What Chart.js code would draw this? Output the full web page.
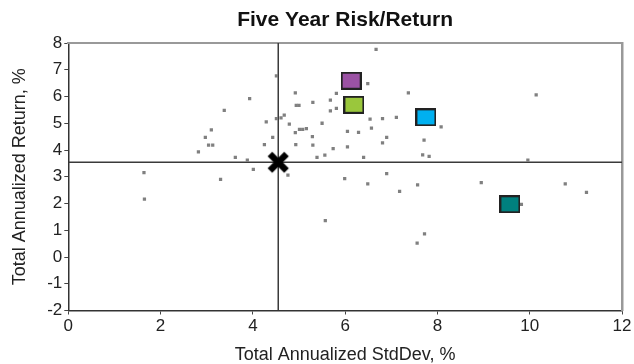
<!DOCTYPE html>
<html><head><meta charset="utf-8">
<script src="https://cdn.jsdelivr.net/npm/chart.js@4/dist/chart.umd.min.js"></script>
<style>html,body{margin:0;padding:0;background:#fff;}canvas{display:block;}</style>
</head><body>
<canvas id="c" width="634" height="364"></canvas>
<script>
// ---- data ----
const peerStdDev = [4.51,3.93,3.38,4.29,4.51,4.61,4.68,4.79,3.10,2.97,3.04,3.13,4.43,4.25,2.82,3.62,3.88,4.01,3.30,1.64,1.65,4.76,
  6.67,6.49,4.92,5.81,7.37,4.94,5.00,5.30,5.68,5.81,5.68,6.54,6.81,7.11,8.08,4.92,5.01,5.08,5.16,5.50,5.29,6.05,6.29,6.57,6.90,6.81,7.71,
  4.93,5.30,5.74,6.05,5.39,5.56,6.40,7.68,7.82,5.99,6.49,6.90,7.18,7.57,5.57,7.72,7.56,10.14,9.96,8.95,10.77,11.23,9.82];
const peerReturn = [6.77,5.92,5.48,5.05,5.17,5.20,5.30,4.97,4.75,4.47,4.18,4.18,4.47,4.20,3.93,3.72,3.62,3.28,2.90,3.15,2.16,3.06,
  7.76,6.48,6.14,6.12,6.14,5.67,5.67,5.78,5.86,5.56,5.46,5.15,5.17,5.22,4.86,4.65,4.77,4.77,4.80,5.00,4.50,4.70,4.66,4.82,4.47,4.27,4.37,
  4.20,4.18,4.05,4.12,3.72,3.81,3.72,3.82,3.76,2.93,2.73,3.12,2.45,2.70,1.36,0.86,0.52,6.06,3.62,2.78,2.73,2.42,1.97];
const fundNames = ['Fund 1','Fund 2','Fund 3','Fund 4'];
const fundStdDev = [6.13, 6.19, 7.75, 9.57];
const fundReturn = [6.59, 5.69, 5.22, 1.97];
const fundColors = ['#9B52A4','#9AC73C','#00B0F0','#00807E'];
const benchStdDev = [4.55];
const benchReturn = [3.54];
const xRange = [0, 12];
const yRange = [-2, 8];

// ---- marker images ----
function boxMarker(color){
  const c=document.createElement('canvas'); c.width=21; c.height=18;
  const g=c.getContext('2d');
  g.fillStyle='#222'; g.fillRect(0,0,21,18);
  g.fillStyle=color; g.fillRect(2,2,17,14);
  return c;
}
function crossMarker(){
  const c=document.createElement('canvas'); c.width=26; c.height=26;
  const g=c.getContext('2d');
  g.strokeStyle='#000'; g.lineWidth=6.5; g.lineCap='square';
  g.beginPath(); g.moveTo(7,7); g.lineTo(19,19); g.moveTo(19,7); g.lineTo(7,19); g.stroke();
  return c;
}

const FONT = "'Liberation Sans', Arial, sans-serif";
const datasets = [];
datasets.push({label:'Peers', data: peerStdDev.map((x,i)=>({x, y: peerReturn[i]})),
  pointStyle:'rect', pointRadius:2.3, backgroundColor:'#808080', borderColor:'#808080', borderWidth:0, order:4});
fundNames.forEach((n,i)=>datasets.push({label:n, data:[{x:fundStdDev[i], y:fundReturn[i]}],
  pointStyle: boxMarker(fundColors[i]), order:2}));
datasets.push({label:'Benchmark', data:[{x:benchStdDev[0], y:benchReturn[0]}], pointStyle: crossMarker(), order:1});
datasets.push({label:'hline', data: xRange.map(x=>({x, y:benchReturn[0]})), showLine:true, pointRadius:0,
  borderColor:'#3a3a3a', borderWidth:1.5, order:5});
datasets.push({label:'vline', data: yRange.map(y=>({x:benchStdDev[0], y})), showLine:true, pointRadius:0,
  borderColor:'#3a3a3a', borderWidth:1.5, order:5});

new Chart(document.getElementById('c'), {
  type:'scatter',
  data:{datasets},
  options:{
    responsive:false, animation:false, devicePixelRatio:1,
    layout:{padding:{right:12, left:0, top:0, bottom:0}},
    plugins:{
      legend:{display:false}, tooltip:{enabled:false},
      title:{display:true, text:'Five Year Risk/Return', fullSize:false, color:'#111',
        font:{family:FONT, size:21, weight:'bold', lineHeight:1.2}, padding:{top:7.4, bottom:10.4}}
    },
    scales:{
      x:{type:'linear', position:'bottom', min:xRange[0], max:xRange[1],
        ticks:{stepSize:2, color:'#222', font:{family:FONT, size:17}, padding:2, maxRotation:0},
        grid:{display:true, drawOnChartArea:false, drawTicks:true, tickLength:4, color:'#444'},
        border:{display:true, color:'#333', width:1.5},
        title:{display:true, text:'Total Annualized StdDev, %', color:'#222', font:{family:FONT, size:18, lineHeight:1}, padding:{top:0,bottom:0}},
        afterFit:s=>{s.height=53.5;}
      },
      y:{type:'linear', position:'left', min:yRange[0], max:yRange[1],
        ticks:{stepSize:1, color:'#222', font:{family:FONT, size:17}, padding:2},
        grid:{display:true, drawOnChartArea:false, drawTicks:true, tickLength:4, color:'#444'},
        border:{display:true, color:'#333', width:1.5},
        title:{display:true, text:'Total Annualized Return, %', color:'#222', font:{family:FONT, size:18, lineHeight:1.2}, padding:{top:9.2,bottom:0}},
        afterFit:s=>{s.width=68.3;}
      },
      x2:{type:'linear', position:'top', min:xRange[0], max:xRange[1], ticks:{display:false},
        grid:{display:false}, border:{display:true, color:'#999', width:2}, afterFit:s=>{s.height=0;}},
      y2:{type:'linear', position:'right', min:yRange[0], max:yRange[1], ticks:{display:false},
        grid:{display:false}, border:{display:true, color:'#999', width:2.5}, afterFit:s=>{s.width=0;}}
    }
  }
});
</script>
</body></html>
